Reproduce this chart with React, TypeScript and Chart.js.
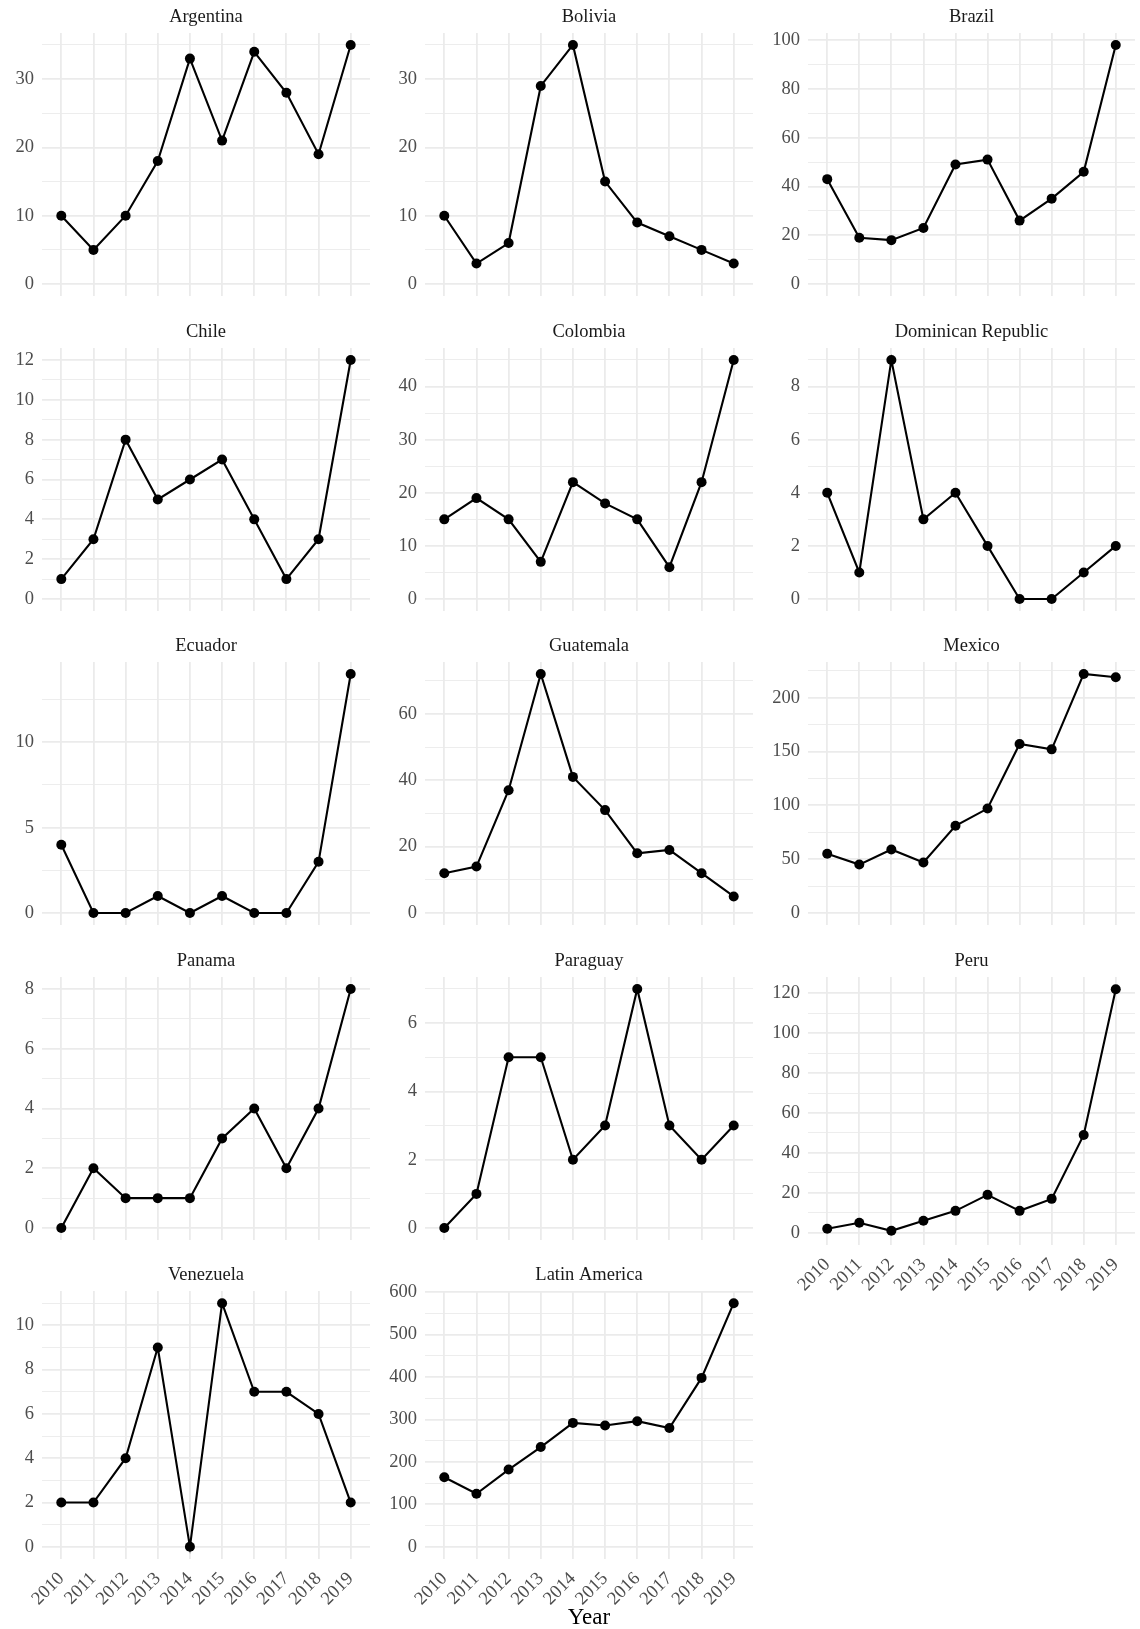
import React, { useEffect, useRef } from 'react';
import { Chart, registerables } from 'chart.js';

Chart.register(...registerables);

const YEARS = [2010, 2011, 2012, 2013, 2014, 2015, 2016, 2017, 2018, 2019];

const argentina = [10, 5, 10, 18, 33, 21, 34, 28, 19, 35];
const bolivia = [10, 3, 6, 29, 35, 15, 9, 7, 5, 3];
const brazil = [43, 19, 18, 23, 49, 51, 26, 35, 46, 98];
const chile = [1, 3, 8, 5, 6, 7, 4, 1, 3, 12];
const colombia = [15, 19, 15, 7, 22, 18, 15, 6, 22, 45];
const dominicanRepublic = [4, 1, 9, 3, 4, 2, 0, 0, 1, 2];
const ecuador = [4, 0, 0, 1, 0, 1, 0, 0, 3, 14];
const guatemala = [12, 14, 37, 72, 41, 31, 18, 19, 12, 5];
const mexico = [55, 45, 59, 47, 81, 97, 157, 152, 222, 219];
const panama = [0, 2, 1, 1, 1, 3, 4, 2, 4, 8];
const paraguay = [0, 1, 5, 5, 2, 3, 7, 3, 2, 3];
const peru = [2, 5, 1, 6, 11, 19, 11, 17, 49, 122];
const venezuela = [2, 2, 4, 9, 0, 11, 7, 7, 6, 2];
const latinAmerica = [164, 125, 182, 235, 292, 286, 296, 280, 398, 574];

const PANEL_NAMES = [
  'Argentina', 'Bolivia', 'Brazil',
  'Chile', 'Colombia', 'Dominican Republic',
  'Ecuador', 'Guatemala', 'Mexico',
  'Panama', 'Paraguay', 'Peru',
  'Venezuela', 'Latin America',
];
const PANEL_SERIES = [
  argentina, bolivia, brazil,
  chile, colombia, dominicanRepublic,
  ecuador, guatemala, mexico,
  panama, paraguay, peru,
  venezuela, latinAmerica,
];
const MAJOR_STEPS = [10, 10, 20, 2, 10, 2, 5, 20, 50, 2, 2, 20, 2, 100];
const X_AXIS_TITLE = 'Year';

const FONT = "'Liberation Serif', 'Times New Roman', Times, serif";
const PAGE_W = 1140;
const COL_LEFT = [42, 425, 808];
const ROW_TOP = [33, 348, 662, 977, 1291];
const PANEL_W = 333;
const PANEL_H = 268;
const AX_W = 42;
const TITLE_H = 34;
const TEXT_SIZE = 18.5;

function isMajor(v: number, major: number) {
  const r = v / major;
  return Math.abs(r - Math.round(r)) < 1e-6;
}

function Panel({ index }: { index: number }) {
  const ref = useRef<HTMLCanvasElement | null>(null);
  const row = Math.floor(index / 3);
  const col = index % 3;
  const showX = index >= 11;
  const isLast = index === PANEL_NAMES.length - 1;
  const left = COL_LEFT[col] - AX_W;
  const top = ROW_TOP[row] - TITLE_H;
  const width = Math.min(AX_W + PANEL_W, PAGE_W - left);
  const xH = isLast ? 70 : showX ? 56 : 0;
  const height = TITLE_H + PANEL_H + xH;

  useEffect(() => {
    if (!ref.current) return;
    const vals = PANEL_SERIES[index];
    const major = MAJOR_STEPS[index];
    const minor = major / 2;
    const vmax = Math.max(...vals);
    const vmin = Math.min(0, ...vals);
    const span = vmax - vmin;
    const yMin = vmin - 0.05 * span;
    const yMax = vmax + 0.05 * span;

    const chart = new Chart(ref.current, {
      type: 'line',
      data: {
        datasets: [
          {
            data: YEARS.map((yr, i) => ({ x: yr, y: vals[i] })),
            borderColor: '#000000',
            borderWidth: 2.1,
            tension: 0,
            pointRadius: 5,
            pointHoverRadius: 5,
            pointBackgroundColor: '#000000',
            pointBorderWidth: 0,
          },
        ],
      },
      options: {
        animation: false,
        responsive: false,
        devicePixelRatio: 1,
        events: [],
        layout: { padding: 0 },
        plugins: {
          legend: { display: false },
          tooltip: { enabled: false },
          title: {
            display: true,
            text: PANEL_NAMES[index],
            fullSize: false,
            color: '#1A1A1A',
            font: { family: FONT, size: TEXT_SIZE, weight: 'normal', lineHeight: 1.2 },
            padding: { top: 7, bottom: 4.8 },
          },
        },
        scales: {
          x: {
            type: 'linear',
            min: 2009.4,
            max: 2019.6,
            afterBuildTicks: (s: any) => {
              s.ticks = YEARS.map((v) => ({ value: v }));
            },
            afterFit: (s: any) => {
              s.height = xH;
              s.paddingLeft = 0;
              s.paddingRight = 0;
            },
            ticks: {
              display: showX,
              autoSkip: false,
              minRotation: 45,
              maxRotation: 45,
              padding: 9,
              color: '#4D4D4D',
              font: { family: FONT, size: TEXT_SIZE },
              callback: (v: any) => String(v),
            },
            grid: { color: '#EBEBEB', lineWidth: 1.8, drawTicks: false },
            border: { display: false },
            title: {
              display: isLast,
              text: X_AXIS_TITLE,
              color: '#000000',
              font: { family: FONT, size: 23, lineHeight: 1.0 },
              padding: { top: 0, bottom: 0 },
            },
          },
          y: {
            type: 'linear',
            min: yMin,
            max: yMax,
            afterBuildTicks: (s: any) => {
              const ticks: { value: number }[] = [];
              const start = Math.ceil(yMin / minor - 1e-9);
              for (let k = start; k * minor <= yMax + 1e-9; k++) {
                ticks.push({ value: k * minor });
              }
              s.ticks = ticks;
            },
            afterFit: (s: any) => {
              s.width = AX_W;
              s.paddingTop = 0;
              s.paddingBottom = 0;
            },
            ticks: {
              autoSkip: false,
              padding: 8,
              color: '#4D4D4D',
              font: { family: FONT, size: TEXT_SIZE },
              callback: (v: any) => (isMajor(Number(v), major) ? String(Math.round(Number(v))) : ''),
            },
            grid: {
              color: '#EBEBEB',
              lineWidth: (ctx: any) =>
                ctx.tick && isMajor(ctx.tick.value, major) ? 1.8 : 0.9,
              drawTicks: false,
            },
            border: { display: false },
          },
        },
      } as any,
    });
    return () => chart.destroy();
  }, [index]);

  return (
    <canvas
      ref={ref}
      width={width}
      height={height}
      style={{ position: 'absolute', left, top, width, height }}
    />
  );
}

export default function App() {
  return (
    <div
      style={{
        position: 'absolute',
        left: 0,
        top: 0,
        width: PAGE_W,
        height: 1629,
        background: '#FFFFFF',
        overflow: 'hidden',
      }}
    >
      {PANEL_NAMES.map((_, i) => (
        <Panel key={i} index={i} />
      ))}
    </div>
  );
}
